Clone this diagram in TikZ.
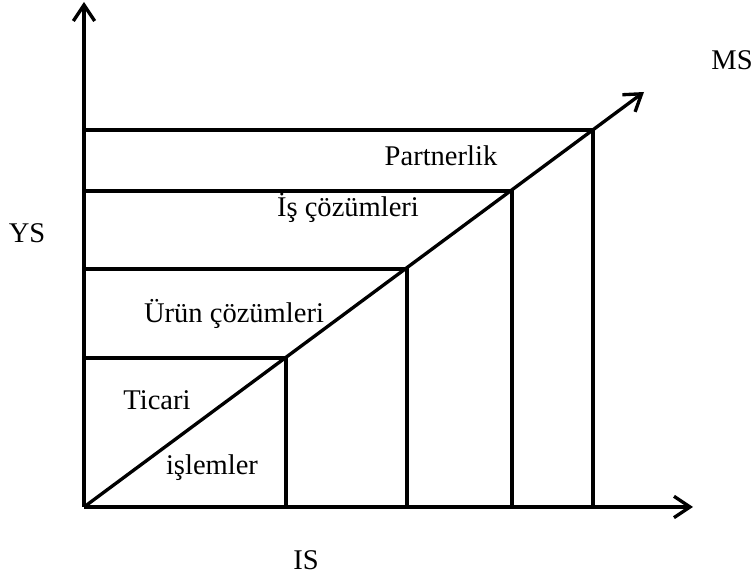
\documentclass[tikz,border=0pt]{standalone}
\usepackage{fontspec}
\setmainfont{Liberation Serif}
\usepackage{tikz}
\usetikzlibrary{arrows.meta,positioning,calc}
\definecolor{lineDark}{RGB}{0,0,0}
\tikzset{
  axisline/.style={line width=2.5pt, draw=lineDark,
    -{Straight Barb[length=12pt,width=16pt,line width=2.5pt]}},
  stepline/.style={line width=2.5pt, draw=lineDark, line cap=rect},
  lbl/.style={anchor=base, inner sep=0pt, font=\fontsize{21.4}{25}\selectfont}
}
\begin{document}
\begin{tikzpicture}[x=0.75pt, y=0.75pt]
        \useasboundingbox (0,0) rectangle (754,578);
        % axes
        \coordinate (o) at (84,71);
        \coordinate (ytip) at (84,576);
        \coordinate (xtip) at (693,71);
        \coordinate (mtip) at (644,486);
        \draw[axisline] (o) -- (ytip);
        \draw[axisline] (o) -- (xtip);
        \draw[axisline] (o) -- (mtip);
        % steps
        \foreach \sx/\sy [count=\i] in {286/220, 407/309, 512/387, 593/448} {
          \coordinate (c\i) at (\sx,\sy);
          \draw[stepline] (o |- c\i) -- (c\i) -- (c\i |- o);
        }
        % labels
        \node[lbl] (ms) at (732,508) {MS};
        \node[lbl] (ys) at (27,335) {YS};
        \node[lbl] (is) at (306,8) {IS};
        \node[lbl] (partner) at (441,412) {Partnerlik};
        \node[lbl] (iscoz) at (348,361) {İş çözümleri};
        \node[lbl] (uruncoz) at (234,255) {Ürün çözümleri};
        \node[lbl] (ticari) at (157,168) {Ticari};
        \node[lbl] (islem) at (212,103) {işlemler};
      \end{tikzpicture}
\end{document}
